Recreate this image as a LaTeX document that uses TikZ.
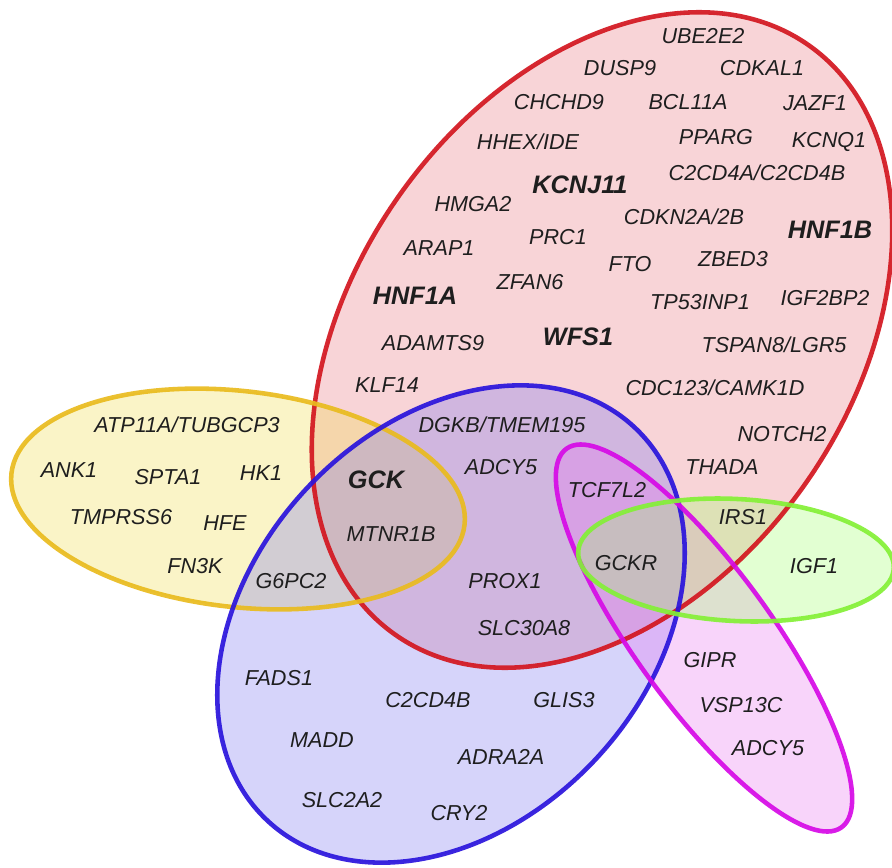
\documentclass[tikz,border=0pt]{standalone}
\usepackage{fontspec}
\setmainfont{Liberation Sans}
\usepackage{tikz}
\usepackage{xcolor}
\usetikzlibrary{positioning}
\definecolor{Set_Red}{HTML}{D3161F}
\definecolor{Set_RedFill}{HTML}{E8707C}
\definecolor{Set_Blue}{HTML}{2A14DC}
\definecolor{Set_BlueFill}{HTML}{7672F0}
\definecolor{Set_Gold}{HTML}{E9BB1E}
\definecolor{Set_GoldFill}{HTML}{F0DC46}
\definecolor{Set_Lime}{HTML}{84F036}
\definecolor{Set_LimeFill}{HTML}{A0FF6A}
\definecolor{Set_Magenta}{HTML}{D60AE6}
\definecolor{Set_MagentaFill}{HTML}{E870F0}
\definecolor{Gene_Ink}{HTML}{1E1E1E}

\begin{document}
\begin{tikzpicture}[x=0.02cm, y=-0.02cm,
    rim/.style={line width=2.6pt, draw opacity=0.92},
    shade/.style={fill opacity=0.3},
    gene/.style={font=\fontsize{12.3}{14}\selectfont\itshape, text=Gene_Ink, inner sep=0pt},
    keygene/.style={font=\fontsize{14.4}{16}\selectfont\bfseries\itshape, text=Gene_Ink, inner sep=0pt}]

    \useasboundingbox (0,0) rectangle (892,868);

    % Set fills
    \fill[shade, Set_RedFill, rotate around={55:(602,340)}] (602,340) ellipse [x radius=360, y radius=249];
    \fill[shade, Set_GoldFill, rotate around={-6.5:(238,499)}] (238,499) ellipse [x radius=228, y radius=108];
    \fill[shade, Set_BlueFill, rotate around={47:(451,624)}] (451,624) ellipse [x radius=269, y radius=198];
    \fill[shade, Set_MagentaFill, rotate around={-54:(704,638)}] (704,638) ellipse [x radius=234, y radius=68];
    \fill[shade, Set_LimeFill, rotate around={-3:(736,560)}] (736,560) ellipse [x radius=158, y radius=61];

    % Set outlines
    \draw[rim, Set_Red, rotate around={55:(602,340)}] (602,340) ellipse [x radius=360, y radius=249];
    \draw[rim, Set_Gold, rotate around={-6.5:(238,499)}] (238,499) ellipse [x radius=228, y radius=108];
    \draw[rim, Set_Blue, rotate around={47:(451,624)}] (451,624) ellipse [x radius=269, y radius=198];
    \draw[rim, Set_Magenta, rotate around={-54:(704,638)}] (704,638) ellipse [x radius=234, y radius=68];
    \draw[rim, Set_Lime, rotate around={-3:(736,560)}] (736,560) ellipse [x radius=158, y radius=61];

    % Red set genes
    \node[gene] (ube2e2) at (703,36) {UBE2E2};
    \node[gene] (dusp9) at (620,68) {DUSP9};
    \node[gene] (cdkal1) at (762,68) {CDKAL1};
    \node[gene] (chchd9) at (559,102) {CHCHD9};
    \node[gene] (bcl11a) at (688,102) {BCL11A};
    \node[gene] (jazf1) at (815,103) {JAZF1};
    \node[gene] (hhex) at (528,142) {HHEX/IDE};
    \node[gene] (pparg) at (716,137) {PPARG};
    \node[gene] (kcnq1) at (829,142) {KCNQ1};
    \node[keygene] (kcnj11) at (580,185) {KCNJ11};
    \node[gene] (c2cd4a) at (757,173) {C2CD4A/C2CD4B};
    \node[gene] (hmga2) at (473,204) {HMGA2};
    \node[gene] (cdkn2a) at (684,217) {CDKN2A/2B};
    \node[keygene] (hnf1b) at (830,230) {HNF1B};
    \node[gene] (arap1) at (439,248) {ARAP1};
    \node[gene] (prc1) at (558,237) {PRC1};
    \node[gene] (fto) at (630,264) {FTO};
    \node[gene] (zbed3) at (733,259) {ZBED3};
    \node[keygene] (hnf1a) at (415,296) {HNF1A};
    \node[gene] (zfan6) at (530,282) {ZFAN6};
    \node[gene] (tp53inp1) at (700,302) {TP53INP1};
    \node[gene] (igf2bp2) at (825,298) {IGF2BP2};
    \node[gene] (adamts9) at (433,343) {ADAMTS9};
    \node[keygene] (wfs1) at (578,337) {WFS1};
    \node[gene] (tspan8) at (774,345) {TSPAN8/LGR5};
    \node[gene] (klf14) at (387,385) {KLF14};
    \node[gene] (cdc123) at (715,388) {CDC123/CAMK1D};
    \node[gene] (notch2) at (782,434) {NOTCH2};
    \node[gene] (thada) at (722,467) {THADA};

    % Red and blue
    \node[gene] (dgkb) at (502,425) {DGKB/TMEM195};
    \node[gene] (adcy5) at (501,467) {ADCY5};
    \node[gene] (prox1) at (505,581) {PROX1};
    \node[gene] (slc30a8) at (524,628) {SLC30A8};
    \node[gene] (tcf7l2) at (607,490) {TCF7L2};
    \node[gene] (gckr) at (626,563) {GCKR};

    % Red and lime
    \node[gene] (irs1) at (743,517) {IRS1};
    \node[gene] (igf1) at (814,566) {IGF1};

    % Gold set genes
    \node[gene] (atp11a) at (187,425) {ATP11A/TUBGCP3};
    \node[gene] (ank1) at (69,470) {ANK1};
    \node[gene] (spta1) at (168,477) {SPTA1};
    \node[gene] (hk1) at (261,473) {HK1};
    \node[gene] (tmprss6) at (121,517) {TMPRSS6};
    \node[gene] (hfe) at (225,523) {HFE};
    \node[gene] (fn3k) at (195,566) {FN3K};
    \node[gene] (g6pc2) at (291,581) {G6PC2};
    \node[keygene] (gck) at (376,480) {GCK};
    \node[gene] (mtnr1b) at (391,534) {MTNR1B};

    % Blue set genes
    \node[gene] (fads1) at (279,678) {FADS1};
    \node[gene] (c2cd4b) at (428,700) {C2CD4B};
    \node[gene] (glis3) at (564,700) {GLIS3};
    \node[gene] (madd) at (322,740) {MADD};
    \node[gene] (adra2a) at (501,757) {ADRA2A};
    \node[gene] (slc2a2) at (342,800) {SLC2A2};
    \node[gene] (cry2) at (459,813) {CRY2};

    % Magenta set genes
    \node[gene] (gipr) at (710,660) {GIPR};
    \node[gene] (vsp13c) at (741,705) {VSP13C};
    \node[gene] (adcy5m) at (768,748) {ADCY5};

\end{tikzpicture}
\end{document}
